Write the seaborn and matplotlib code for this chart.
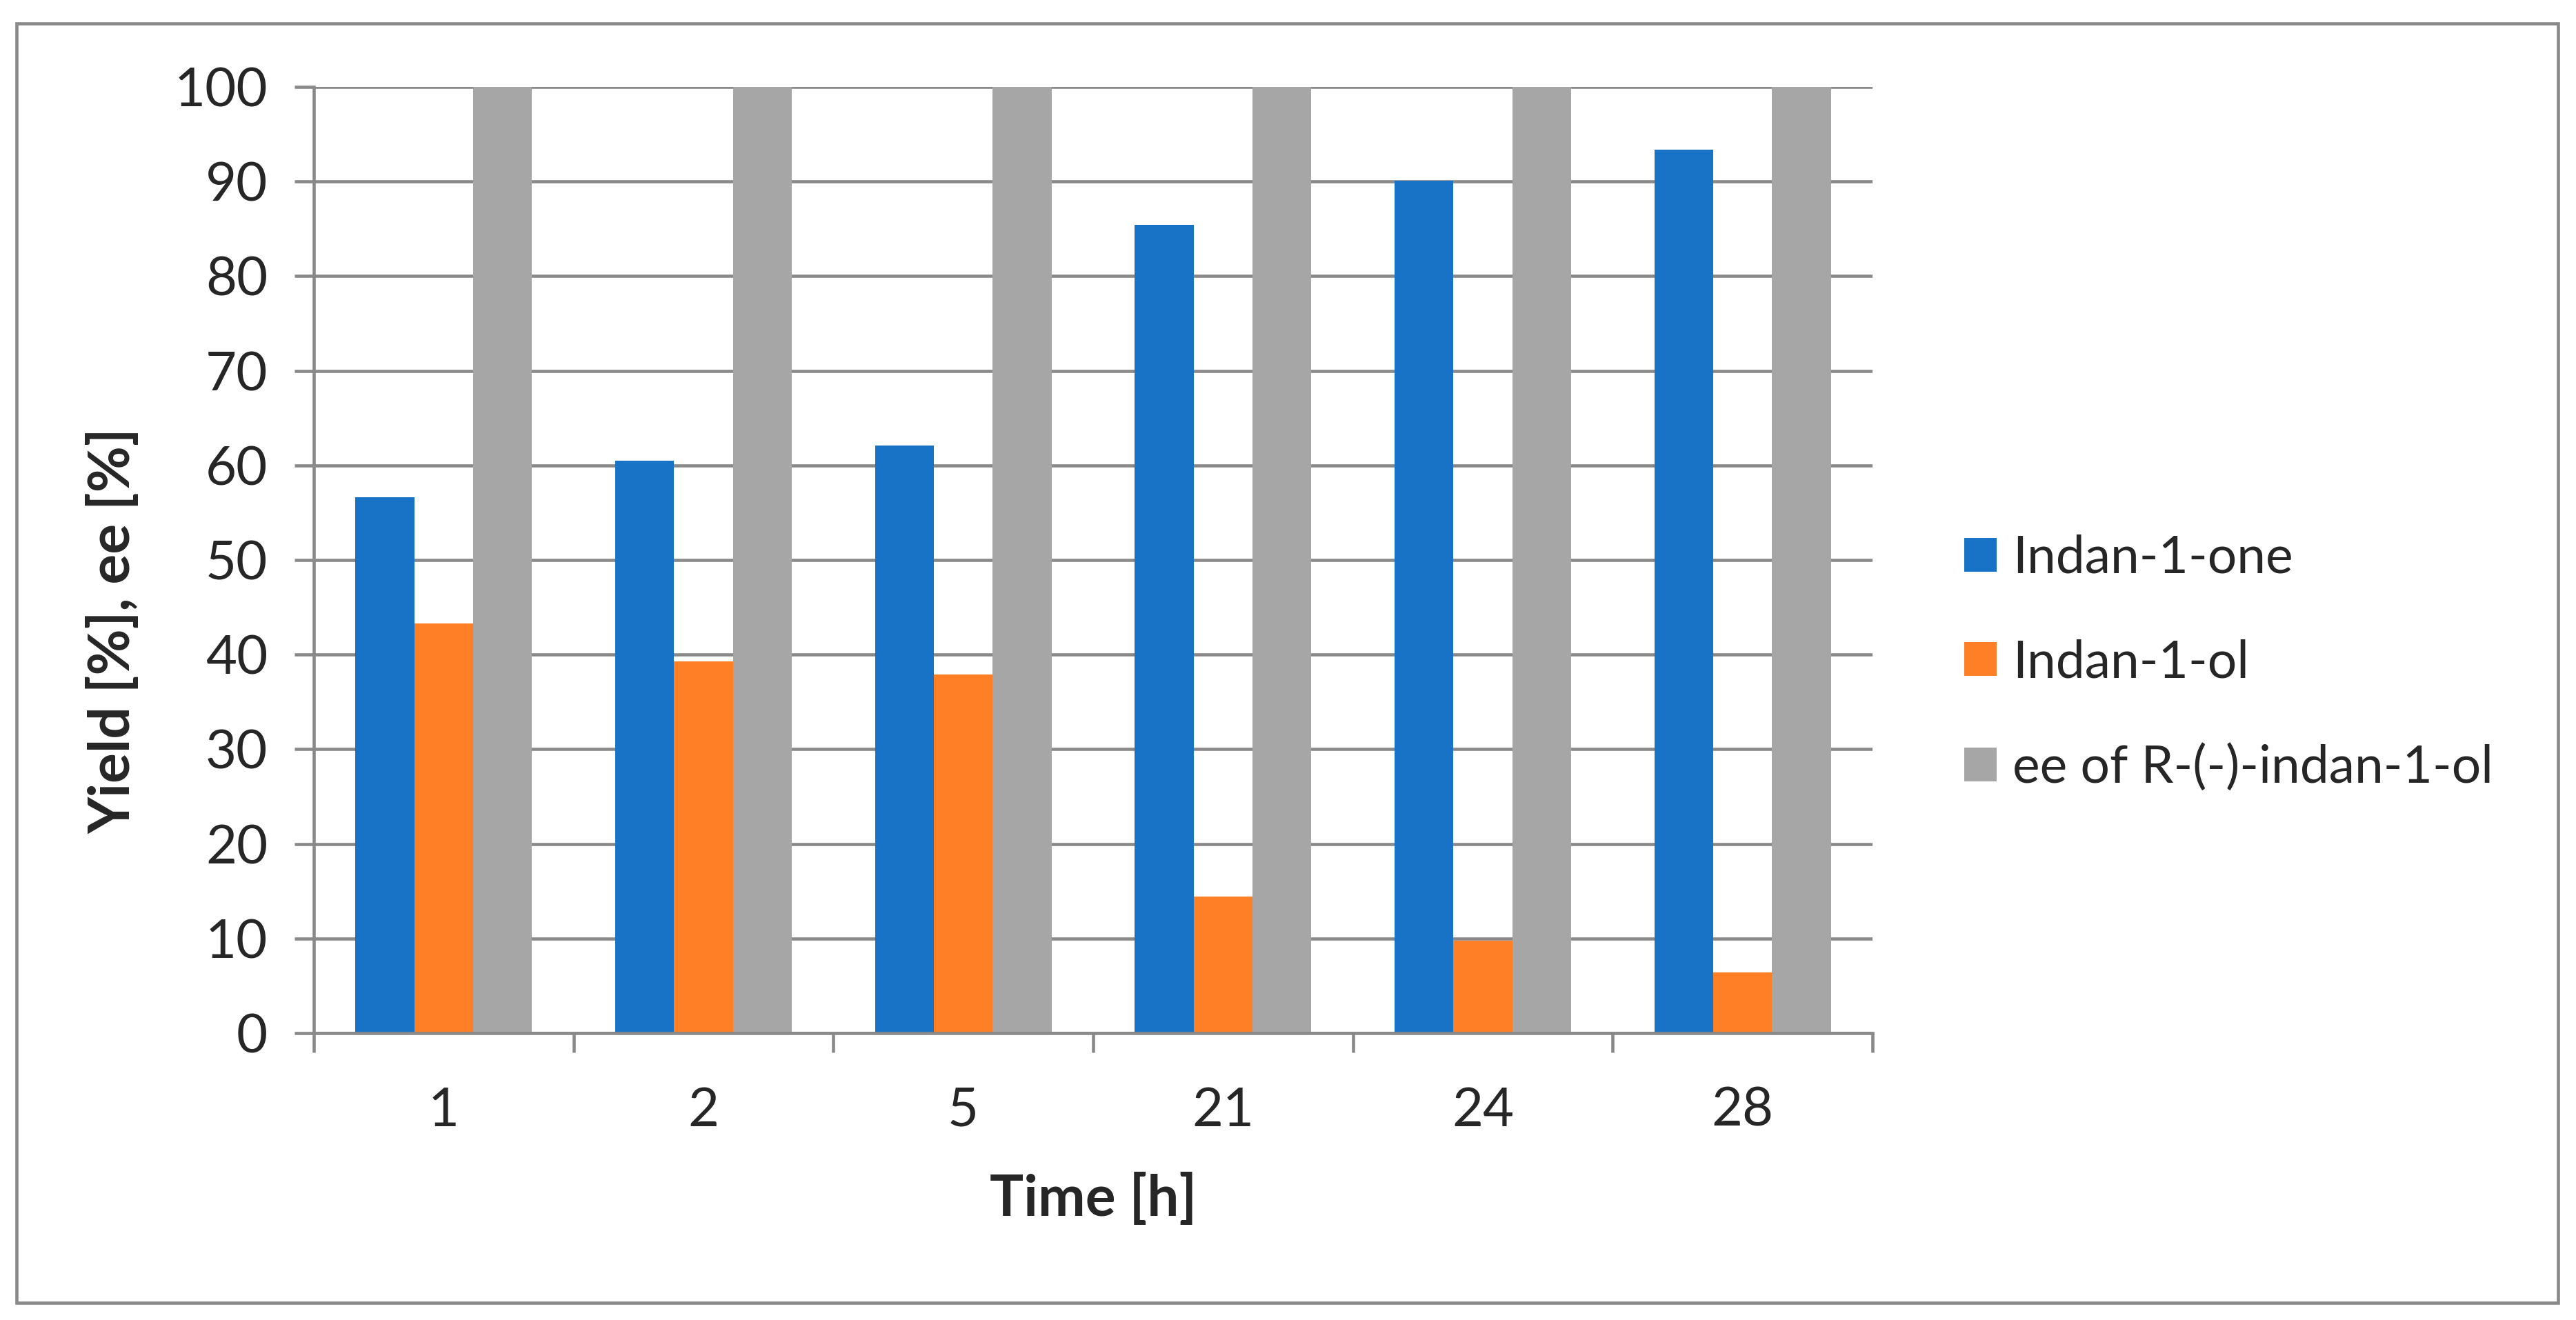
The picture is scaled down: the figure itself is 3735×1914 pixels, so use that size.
import matplotlib
matplotlib.use("Agg")
import matplotlib.pyplot as plt
import seaborn as sns
import pandas as pd
import numpy as np
from matplotlib.patches import Rectangle
from matplotlib.ticker import FixedLocator, NullFormatter

# ---- data ----
times = ["1", "2", "5", "21", "24", "28"]
indanone = [56.6, 60.5, 62.1, 85.4, 90.1, 93.4]
indanol = [43.3, 39.3, 37.9, 14.4, 9.8, 6.4]
ee_values = [100, 100, 100, 100, 100, 100]
series_names = ["Indan-1-one", "Indan-1-ol", "ee of R-(-)-indan-1-ol"]
colors = ["#1872C6", "#FF7F27", "#A6A6A6"]
y_ticks = [0, 10, 20, 30, 40, 50, 60, 70, 80, 90, 100]

df = pd.DataFrame({
    "Time": times * 3,
    "Value": indanone + indanol + ee_values,
    "Series": [series_names[0]] * 6 + [series_names[1]] * 6 + [series_names[2]] * 6,
})

sns.set_theme(style="white")
plt.rcParams["font.family"] = ["Lato", "DejaVu Sans"]

W, H = 3735, 1914
DPI = 100
fig = plt.figure(figsize=(W / DPI, H / DPI), dpi=DPI)
ax_l, ax_r, ax_t, ax_b = 455, 2715, 126, 1498
ax = fig.add_axes([ax_l / W, 1 - ax_b / H, (ax_r - ax_l) / W, (ax_b - ax_t) / H])

grid_c = "#898989"
sns.barplot(data=df, x="Time", y="Value", hue="Series", order=times,
            hue_order=series_names, palette=colors, width=0.68,
            saturation=1, ax=ax, legend=True, linewidth=0, errorbar=None)

ax.set_xlim(-0.5, len(times) - 0.5)
ax.set_ylim(0, 100)
ax.set_yticks(y_ticks)
ax.yaxis.grid(True, color=grid_c, linewidth=3.3)
ax.set_axisbelow(True)
for s in ["top", "right"]:
    ax.spines[s].set_visible(False)
for s in ["left", "bottom"]:
    ax.spines[s].set_color(grid_c)
    ax.spines[s].set_linewidth(3.3)

ax.tick_params(axis="y", which="major", length=20, width=3.3, color=grid_c,
               direction="out", labelsize=56, pad=28, left=True)
ax.tick_params(axis="x", which="major", length=0, labelsize=56, pad=56)
ax.xaxis.set_minor_locator(FixedLocator(np.arange(-0.5, len(times), 1.0)))
ax.xaxis.set_minor_formatter(NullFormatter())
ax.tick_params(axis="x", which="minor", length=20, width=3.3, color=grid_c,
               direction="out", bottom=True)

ax.set_xlabel("Time [h]", fontsize=59, fontweight="bold")
ax.set_ylabel("Yield [%], ee [%]", fontsize=59, fontweight="bold")
ax_w = ax_r - ax_l
ax_h = ax_b - ax_t
ax.xaxis.set_label_coords(0.5, (ax_b - 1700) / ax_h)
ax.yaxis.set_label_coords((202 - ax_l) / ax_w, (ax_b - 915) / ax_h)

leg = ax.legend(loc="center left", bbox_to_anchor=(2848 / W, 1 - 961 / H),
                bbox_transform=fig.transFigure, frameon=False, fontsize=54,
                handlelength=0.63, handleheight=0.63, handletextpad=0.3,
                labelspacing=1.1, borderpad=0, borderaxespad=0)

fig.patches.append(Rectangle((24 / W, 1 - 1889 / H), (3709 - 24) / W, (1889 - 34) / H,
                             transform=fig.transFigure, fill=False,
                             edgecolor=grid_c, linewidth=3.3))

fig.savefig("out.png", dpi=DPI, facecolor="white")
